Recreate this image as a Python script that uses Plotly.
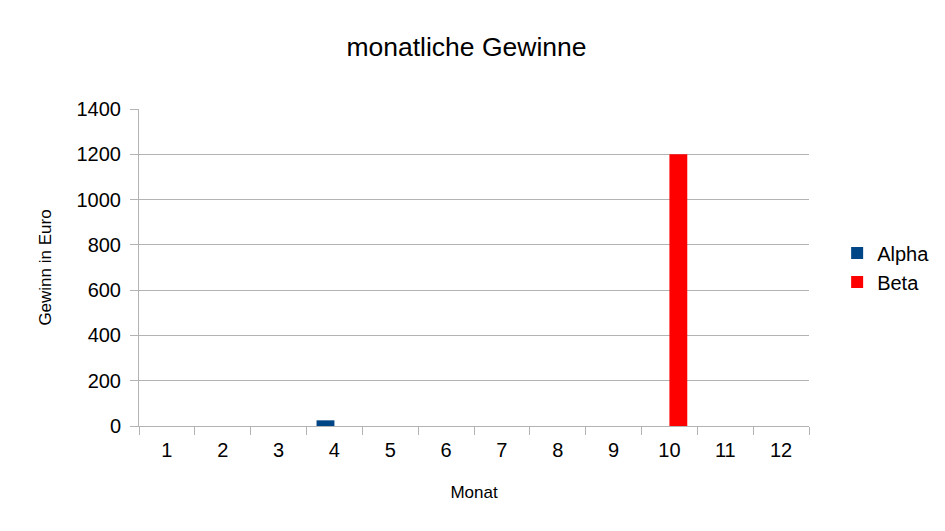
import plotly.graph_objects as go

months = [str(i) for i in range(1, 13)]
alpha = [0, 0, 0, 25, 0, 0, 0, 0, 0, 0, 0, 0]
beta = [0, 0, 0, 0, 0, 0, 0, 0, 0, 1200, 0, 0]
y_ticks = [0, 200, 400, 600, 800, 1000, 1200, 1400]

font = "Liberation Sans, Arial, sans-serif"

# page body has an 8px margin, so the figure is sized to fit inside the window
W, H = 929, 515

fig = go.Figure()
fig.add_trace(go.Bar(x=months, y=alpha, name="Alpha", marker=dict(color="#004586", line=dict(width=0))))
fig.add_trace(go.Bar(x=months, y=beta, name="Beta", marker=dict(color="#ff0000", line=dict(width=0))))

fig.update_layout(
    width=W, height=H,
    margin=dict(l=131, r=128, t=101, b=97, autoexpand=False),
    paper_bgcolor="white", plot_bgcolor="white",
    barmode="group", bargap=0.36, bargroupgap=0,
    font=dict(family=font, color="black"),
    title=dict(text="monatliche Gewinne", x=458.5 / W, xanchor="center", y=1 - 39 / H, yanchor="middle",
               font=dict(size=26.5, family=font, color="black")),
    legend=dict(x=1.042, y=0.5, xanchor="left", yanchor="middle", font=dict(size=20),
                itemsizing="constant", tracegroupgap=0),
    showlegend=True,
)
fig.update_xaxes(
    type="category", tickson="boundaries", ticks="outside", ticklen=8, tickcolor="#b3b3b3",
    showline=True, linecolor="#b3b3b3", linewidth=1, showgrid=False,
    tickfont=dict(size=20), ticklabelstandoff=6,
    title=dict(text="Monat", font=dict(size=17), standoff=26),
)
fig.update_yaxes(
    range=[0, 1400], tickvals=y_ticks, ticks="outside", ticklen=8, tickcolor="#b3b3b3",
    showline=True, linecolor="#b3b3b3", linewidth=1, showgrid=True, gridcolor="#b3b3b3",
    zeroline=False, tickfont=dict(size=20), ticklabelstandoff=5,
    title=dict(text="Gewinn in Euro", font=dict(size=17), standoff=20),
)

fig.write_html("out.html")
